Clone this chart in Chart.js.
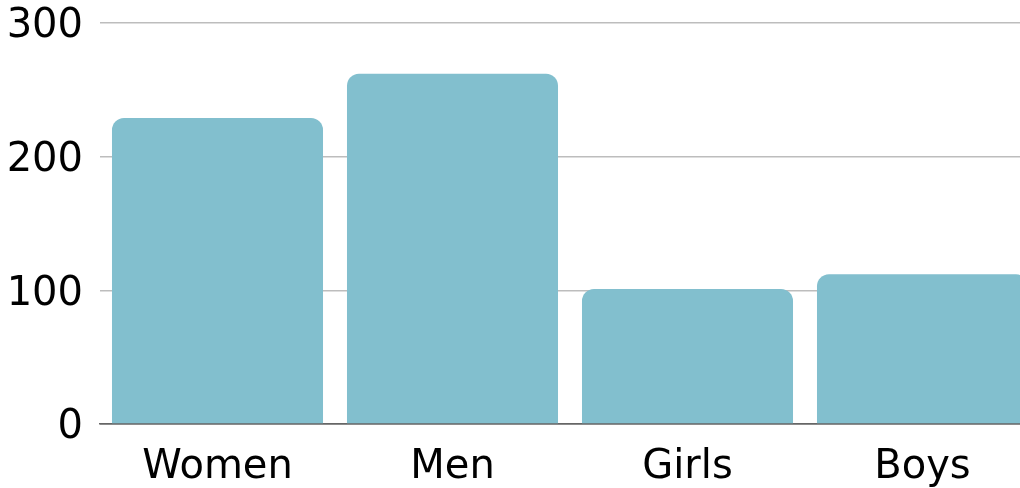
<!DOCTYPE html>
<html>
<head>
<meta charset="utf-8">
<script src="https://cdn.jsdelivr.net/npm/chart.js@4"></script>
<style>
  html, body { margin: 0; padding: 0; background: #fff; overflow: hidden; }
  /* canvas is a bit wider than the window: the last bar runs off the edge */
  #wrap { width: 1040px; height: 488px; }
</style>
</head>
<body>
<div id="wrap"><canvas id="groupChart"></canvas></div>
<script>
// chart data
const categories = ['Women', 'Men', 'Girls', 'Boys'];
const counts = [229, 262, 101, 112];
const yTicks = [0, 100, 200, 300];

const ctx = document.getElementById('groupChart').getContext('2d');

new Chart(ctx, {
    type: 'bar',
    data: {
        labels: categories,
        datasets: [{
            label: 'Count',
            data: counts,
            backgroundColor: '#82bfce',
            borderRadius: { topLeft: 12, topRight: 12 },
            borderSkipped: 'bottom',
            barPercentage: 1,
            categoryPercentage: 0.898
        }]
    },
    options: {
        responsive: true,
        maintainAspectRatio: false,
        animation: false,
        layout: {
            padding: { top: 23, right: 0, bottom: 0, left: 0 }
        },
        scales: {
            y: {
                min: 0,
                max: 300,
                afterFit: function (axis) {
                    axis.width = 100;
                    axis.paddingTop = 0;
                    axis.paddingBottom = 0;
                },
                afterBuildTicks: function (axis) {
                    axis.ticks = yTicks.map(v => ({ value: v }));
                },
                border: { display: false },
                grid: {
                    drawTicks: false,
                    color: function (c) { return c.tick && c.tick.value === 0 ? '#666666' : '#bdbdbd'; },
                    lineWidth: 1.5
                },
                ticks: {
                    padding: 17,
                    labelOffset: 4,
                    color: '#000',
                    font: { family: 'DejaVu Sans', size: 40 }
                }
            },
            x: {
                afterFit: function (axis) {
                    axis.height = 64;
                    axis.paddingLeft = 0;
                    axis.paddingRight = 0;
                },
                border: { display: true, color: '#666666', width: 1.5 },
                grid: { display: false, drawTicks: false },
                ticks: {
                    padding: 20,
                    color: '#000',
                    font: { family: 'DejaVu Sans', size: 40 }
                }
            }
        },
        plugins: {
            legend: { display: false },
            tooltip: { enabled: false }
        }
    }
});
</script>
</body>
</html>
